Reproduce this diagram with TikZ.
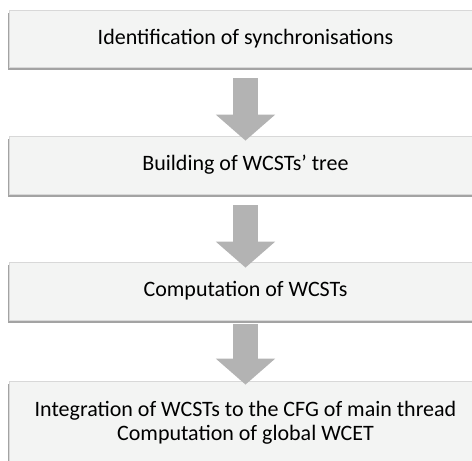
\documentclass[tikz,border=0pt]{standalone}
\usepackage{fontspec}
\setmainfont{Carlito}
\usetikzlibrary{calc,shadows,arrows.meta}
\definecolor{boxfill}{HTML}{F3F4F3}
\definecolor{boxline}{HTML}{D8D8D8}
\definecolor{shadowc}{HTML}{8C8C8C}
\definecolor{arrowc}{HTML}{B3B3B3}
\begin{document}
\begin{tikzpicture}[x=1pt,y=1pt,
  stepbox/.style={rectangle, fill=boxfill, draw=boxline, line width=0.8pt,
    minimum width=473pt, inner sep=0pt, align=center, text=black,
    font=\fontsize{22}{24}\selectfont,
    drop shadow={shadow xshift=-1.2pt, shadow yshift=-2.5pt, fill=shadowc, opacity=0.8}},
  blockarrow/.style={draw=arrowc, line width=24.5pt, line cap=butt,
    -{Triangle[width=58pt,length=26pt,fill=arrowc]}}
]
\useasboundingbox (0,0) rectangle (472,-461);
\node[stepbox, minimum height=57pt] (s1) at (245.5,-38.5) {Identification of synchronisations};
\node[stepbox, minimum height=58pt] (s2) at (245.5,-165) {Building of WCSTs’ tree};
\node[stepbox, minimum height=58pt] (s3) at (245.5,-291) {Computation of WCSTs};
\node[stepbox, minimum height=84pt] (s4) at (245.5,-423) {Integration of WCSTs to the CFG of main thread\\Computation of global WCET};
\coordinate (a1s) at ($(s1.south)+(0,-11)$);
\coordinate (a1e) at ($(s2.north)+(0,-5)$);
\coordinate (a2s) at ($(s2.south)+(0,-11)$);
\coordinate (a2e) at ($(s3.north)+(0,-6)$);
\coordinate (a3s) at ($(s3.south)+(0,-4)$);
\coordinate (a3e) at ($(s4.north)+(0,-4)$);
\draw[blockarrow] (a1s) -- (a1e);
\draw[blockarrow] (a2s) -- (a2e);
\draw[blockarrow] (a3s) -- (a3e);
\end{tikzpicture}
\end{document}
